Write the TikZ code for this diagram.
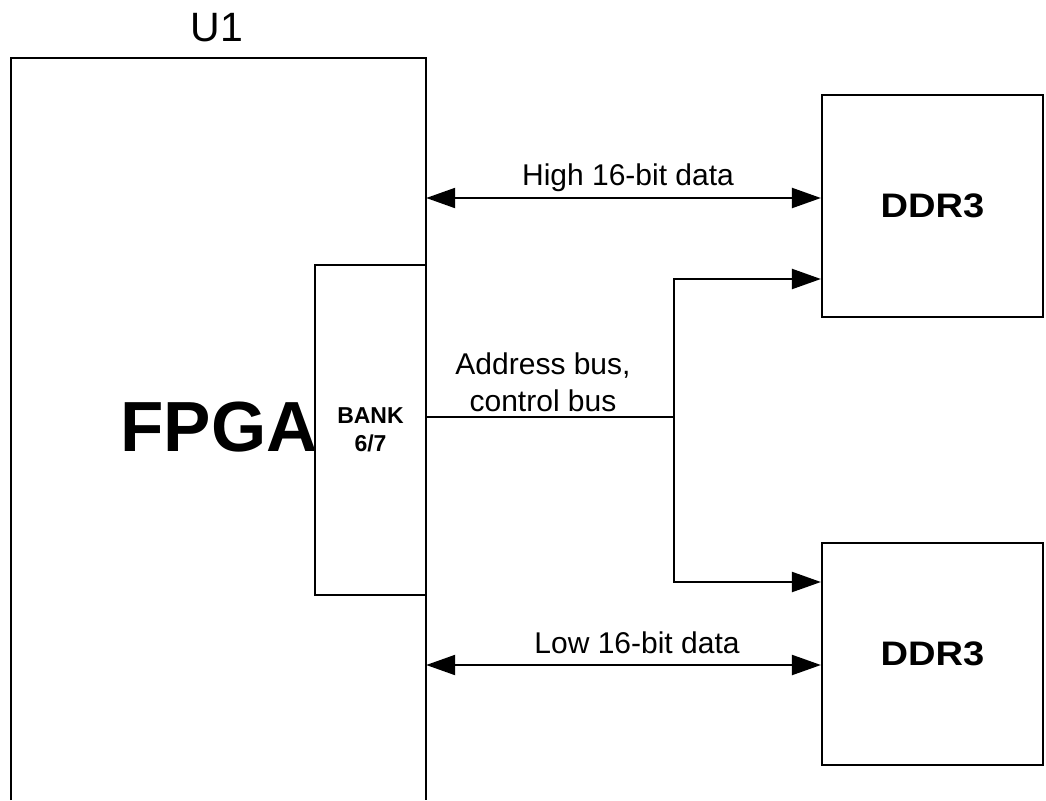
\documentclass[tikz,border=0pt]{standalone}
\usepackage{fontspec}
\setmainfont{Liberation Sans}
\usetikzlibrary{arrows.meta}
\tikzset{
  box/.style={draw, line width=2.2pt, inner sep=0pt},
  conn/.style={line width=2.2pt},
  bigtip/.style={-{Triangle[length=29pt,width=20pt]}},
  bothtip/.style={{Triangle[length=29pt,width=20pt]}-{Triangle[length=29pt,width=20pt]}},
  lbl/.style={font=\fontsize{30}{37}\selectfont, inner sep=0pt},
  ddrbox/.style={box, minimum width=221pt, minimum height=222pt, font=\bfseries\fontsize{34}{34}\selectfont}
}
\begin{document}
\begin{tikzpicture}[x=1pt,y=-1pt]
\useasboundingbox (0,0) rectangle (1046,800);
% FPGA chip (bottom cut off by the picture edge)
\node[inner sep=0pt, minimum width=415pt, minimum height=742pt] (fpga) at (218.5,429) {};
\draw[conn] (fpga.south west) -- (fpga.north west) -- (fpga.north east) -- (fpga.south east);
\node[font=\fontsize{41}{41}\selectfont, inner sep=0pt] (u1) at (217,28) {U1};
\node[font=\bfseries\fontsize{71}{71}\selectfont, inner sep=0pt] (fpgatext) at (219,427.5) {FPGA};
% bank
\node[box, minimum width=111pt, minimum height=330pt, align=center,
      font=\bfseries\fontsize{23}{28}\selectfont] (bank) at (370.5,430) {BANK\\6/7};
% DDR3 chips
\node[ddrbox] (ddrA) at (932.5,206) {\scalebox{1.12}[1]{DDR3}};
\node[ddrbox] (ddrB) at (932.5,654) {\scalebox{1.12}[1]{DDR3}};
% helper levels
\coordinate (yhi) at (0,198);
\coordinate (ya) at (0,279);
\coordinate (yb) at (0,582);
\coordinate (ylo) at (0,665);
\coordinate (junc) at (674,417);
% high data
\draw[conn, bothtip] (fpga.east |- yhi) -- (ddrA.west |- yhi);
\node[lbl, anchor=base] (hilbl) at (628,185) {High 16-bit data};
% address / control bus
\draw[conn] (bank.east |- junc) -- (junc);
\draw[conn, bigtip] (junc) |- (ddrA.west |- ya);
\draw[conn, bigtip] (junc) |- (ddrB.west |- yb);
\node[lbl, align=center] (addrlbl) at (543,382.5) {Address bus,\\control bus};
% low data
\draw[conn, bothtip] (fpga.east |- ylo) -- (ddrB.west |- ylo);
\node[lbl, anchor=base] (lolbl) at (637,653) {Low 16-bit data};
\end{tikzpicture}
\end{document}
